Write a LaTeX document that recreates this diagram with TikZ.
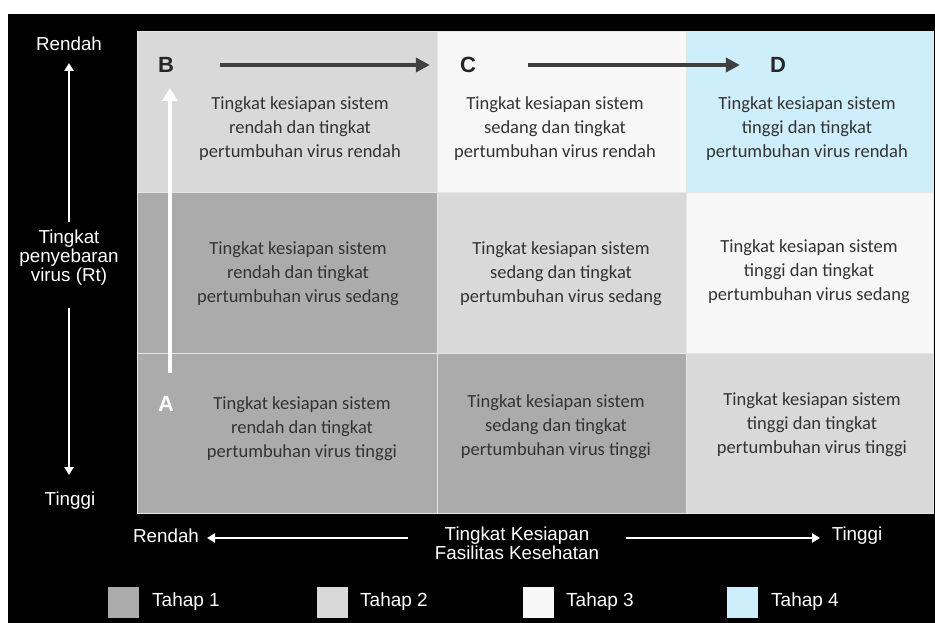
\documentclass[tikz,border=0pt]{standalone}
\usepackage{fontspec}
\setmainfont{Liberation Sans}
\newfontfamily\calfont{Carlito}
\usetikzlibrary{arrows.meta}
\definecolor{tahapA}{HTML}{ABABAB}
\definecolor{tahapB}{HTML}{D9D9D9}
\definecolor{tahapC}{HTML}{F7F7F7}
\definecolor{tahapD}{HTML}{CFEEFB}
\definecolor{gridline}{HTML}{E6E6E6}
\definecolor{celltext}{HTML}{333333}
\definecolor{darkarrow}{HTML}{404040}
\begin{document}
\begin{tikzpicture}[x=1pt,y=-1pt,
  cell/.style={draw=gridline, line width=1pt, anchor=north west, inner sep=0pt, minimum height=161pt},
  celltxt/.style={align=center, text=celltext, font=\calfont\fontsize{18.5}{24}\selectfont, inner sep=0pt},
  axistxt/.style={align=center, text=white, font=\fontsize{18.8}{19}\selectfont, inner sep=0pt},
  letter/.style={font=\bfseries\fontsize{22}{24}\selectfont, inner sep=0pt},
  axisarrow/.style={white, line width=2.2pt, -{Triangle[length=8pt,width=9pt]}},
  bigarrow/.style={darkarrow, line width=4.5pt, -{Triangle[length=14pt,width=14pt]}},
  whitearrow/.style={white, line width=4.5pt, -{Triangle[length=13pt,width=15pt]}},
  legendbox/.style={minimum width=31pt, minimum height=31pt, inner sep=0pt, anchor=north west},
  legendtxt/.style={text=white, font=\fontsize{19}{19}\selectfont, anchor=west, inner sep=0pt}
]
\useasboundingbox (0,0) rectangle (935,623);
\fill[white] (0,0) rectangle (935,623);
\fill[black] (8,14) rectangle (935,623);

% grid cells
\node[cell, fill=tahapB, minimum width=300pt] (c11) at (137,31) {};
\node[cell, fill=tahapC, minimum width=249pt] (c12) at (437,31) {};
\node[cell, fill=tahapD, minimum width=247pt] (c13) at (686,31) {};
\node[cell, fill=tahapA, minimum width=300pt] (c21) at (137,192) {};
\node[cell, fill=tahapB, minimum width=249pt] (c22) at (437,192) {};
\node[cell, fill=tahapC, minimum width=247pt] (c23) at (686,192) {};
\node[cell, fill=tahapA, minimum width=300pt, minimum height=160pt] (c31) at (137,353) {};
\node[cell, fill=tahapA, minimum width=249pt, minimum height=160pt] (c32) at (437,353) {};
\node[cell, fill=tahapB, minimum width=247pt, minimum height=160pt] (c33) at (686,353) {};

% cell texts
\node[celltxt] (t11) at (300,129) {Tingkat kesiapan sistem\\rendah dan tingkat\\pertumbuhan virus rendah};
\node[celltxt] (t12) at (555,129) {Tingkat kesiapan sistem\\sedang dan tingkat\\pertumbuhan virus rendah};
\node[celltxt] (t13) at (807,129) {Tingkat kesiapan sistem\\tinggi dan tingkat\\pertumbuhan virus rendah};
\node[celltxt] (t21) at (298,274) {Tingkat kesiapan sistem\\rendah dan tingkat\\pertumbuhan virus sedang};
\node[celltxt] (t22) at (561,274) {Tingkat kesiapan sistem\\sedang dan tingkat\\pertumbuhan virus sedang};
\node[celltxt] (t23) at (809,272) {Tingkat kesiapan sistem\\tinggi dan tingkat\\pertumbuhan virus sedang};
\node[celltxt] (t31) at (302,429) {Tingkat kesiapan sistem\\rendah dan tingkat\\pertumbuhan virus tinggi};
\node[celltxt] (t32) at (556,427) {Tingkat kesiapan sistem\\sedang dan tingkat\\pertumbuhan virus tinggi};
\node[celltxt] (t33) at (812,425) {Tingkat kesiapan sistem\\tinggi dan tingkat\\pertumbuhan virus tinggi};

% letters
\node[letter, text=black!85] (B) at (166,65) {B};
\node[letter, text=black!85] (C) at (468,65) {C};
\node[letter, text=black!85] (D) at (778,65) {D};
\node[letter, text=white] (A) at (166,404) {A};

% progression arrows
\draw[bigarrow, shorten <=46pt, shorten >=30pt] (B) -- (C);
\draw[bigarrow, shorten <=52pt, shorten >=30pt] (C) -- (D);
\coordinate (vbot) at (170,373);
\coordinate (vtop) at (170,88);
\draw[whitearrow] (vbot) -- (vtop);

% left axis
\node[axistxt] (lrendah) at (69,44) {Rendah};
\node[axistxt] (rt) at (69,258) {Tingkat\\penyebaran\\virus (Rt)};
\node[axistxt] (ltinggi) at (70,501) {Tinggi};
\coordinate (upstart) at (69,222);
\coordinate (uptip) at (69,63);
\coordinate (dnstart) at (69,308);
\coordinate (dntip) at (69,475);
\draw[axisarrow] (upstart) -- (uptip);
\draw[axisarrow] (dnstart) -- (dntip);

% bottom axis
\node[axistxt] (brendah) at (166,536) {Rendah};
\node[axistxt, anchor=north] (fas) at (517,527) {Tingkat Kesiapan\\Fasilitas Kesehatan};
\node[axistxt] (btinggi) at (857,536) {Tinggi};
\coordinate (lstart) at (408,538);
\coordinate (ltip) at (207,538);
\coordinate (rstart) at (626,538);
\coordinate (rtip) at (820,538);
\draw[axisarrow] (lstart) -- (ltip);
\draw[axisarrow] (rstart) -- (rtip);

% legend
\node[legendbox, fill=tahapA] (lg1) at (108,587) {};
\node[legendtxt] (lt1) at (152,602) {Tahap 1};
\node[legendbox, fill=tahapB] (lg2) at (317,587) {};
\node[legendtxt] (lt2) at (360,602) {Tahap 2};
\node[legendbox, fill=tahapC] (lg3) at (523,587) {};
\node[legendtxt] (lt3) at (566,602) {Tahap 3};
\node[legendbox, fill=tahapD] (lg4) at (727,587) {};
\node[legendtxt] (lt4) at (771,602) {Tahap 4};
\end{tikzpicture}
\end{document}
